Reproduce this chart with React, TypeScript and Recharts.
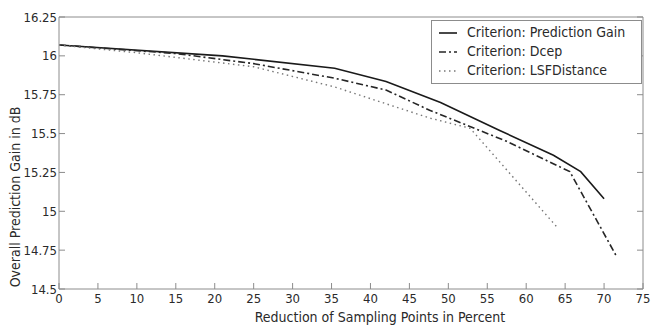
import { Legend, Line, LineChart, XAxis, YAxis } from 'recharts';

const FONT = '"Liberation Sans Narrow", "Arial Narrow", "DejaVu Sans Condensed", sans-serif';
const AXIS_GRAY = '#8c8c8c';
const TEXT = '#2a2a2a';

// reduction of sampling points (%) and gain (dB) per criterion
const gainX = [0, 21, 35.4, 42, 49, 56.6, 63.5, 67, 70];
const gainY = [16.07, 16.0, 15.92, 15.835, 15.7, 15.52, 15.36, 15.255, 15.08];

const dcepX = [0, 15, 25, 35.4, 42, 47.6, 57.5, 65.6, 71.6];
const dcepY = [16.07, 16.015, 15.95, 15.856, 15.78, 15.65, 15.45, 15.255, 14.71];

const lsfX = [0, 10, 25, 35.4, 47.6, 52.8, 64.1];
const lsfY = [16.07, 16.02, 15.93, 15.8, 15.6, 15.534, 14.89];

const xTicks = [0, 5, 10, 15, 20, 25, 30, 35, 40, 45, 50, 55, 60, 65, 70, 75];
const yTicks = [14.5, 14.75, 15, 15.25, 15.5, 15.75, 16, 16.25];

const toPoints = (xs: number[], ys: number[]) => xs.map((x, i) => ({ x, y: ys[i] }));

const series = [
  { name: 'Criterion: Prediction Gain', data: toPoints(gainX, gainY), color: '#1a1a1a', dash: undefined, width: 1.6 },
  { name: 'Criterion: Dcep', data: toPoints(dcepX, dcepY), color: '#262626', dash: '7 3 2 3', width: 1.6 },
  { name: 'Criterion: LSFDistance', data: toPoints(lsfX, lsfY), color: '#777777', dash: '1.5 3.5', width: 1.4 },
];

const blank = () => '';

const LegendBox = () => (
  <div
    style={{
      border: `1px solid ${AXIS_GRAY}`,
      background: '#fff',
      padding: '2px 6px 3px 6px',
      fontFamily: FONT,
      fontSize: 14,
      color: TEXT,
      lineHeight: '19px',
      boxSizing: 'border-box',
      width: 211,
      whiteSpace: 'nowrap',
    }}
  >
    {series.map((s) => (
      <div key={s.name} style={{ display: 'flex', alignItems: 'center' }}>
        <svg width={22} height={10} style={{ marginRight: 7 }}>
          <line x1={1} y1={5} x2={19} y2={5} stroke={s.color} strokeWidth={s.width} strokeDasharray={s.dash} />
        </svg>
        <span>{s.name}</span>
      </div>
    ))}
  </div>
);

const YLabel = (props: any) => {
  const { viewBox } = props;
  const cx = 15;
  const cy = viewBox.y + viewBox.height / 2 + 44;
  return (
    <text
      x={cx}
      y={cy}
      transform={`rotate(-90 ${cx} ${cy})`}
      textAnchor="middle"
      dominantBaseline="central"
      fontFamily={FONT}
      fontSize={14}
      fill={TEXT}
    >
      Overall Prediction Gain in dB
    </text>
  );
};

const XLabel = (props: any) => {
  const { viewBox } = props;
  return (
    <text
      x={viewBox.x + viewBox.width / 2 + 29}
      y={322}
      textAnchor="middle"
      fontFamily={FONT}
      fontSize={14}
      fill={TEXT}
    >
      Reduction of Sampling Points in Percent
    </text>
  );
};

export default function App() {
  const tickStyle = { fontFamily: FONT, fontSize: 13, fill: TEXT };
  return (
    <div style={{ position: 'absolute', left: 0, top: 0, background: '#fff' }}>
      <LineChart width={660} height={325} margin={{ top: 0, right: 0, bottom: 0, left: 0 }}>
        <XAxis
          xAxisId="bottom"
          dataKey="x"
          type="number"
          domain={[0, 75]}
          ticks={xTicks}
          allowDataOverflow
          height={36}
          stroke={AXIS_GRAY}
          tickSize={-6}
          tickMargin={11}
          tick={tickStyle}
          label={<XLabel />}
        />
        <XAxis
          xAxisId="top"
          orientation="top"
          type="number"
          domain={[0, 75]}
          ticks={xTicks}
          allowDataOverflow
          height={17}
          stroke={AXIS_GRAY}
          tickSize={-6}
          tickFormatter={blank}
        />
        <YAxis
          yAxisId="left"
          type="number"
          domain={[14.5, 16.25]}
          ticks={yTicks}
          allowDataOverflow
          width={59}
          stroke={AXIS_GRAY}
          tickSize={-6}
          tickMargin={8}
          tick={tickStyle}
          label={<YLabel />}
        />
        <YAxis
          yAxisId="right"
          orientation="right"
          type="number"
          domain={[14.5, 16.25]}
          ticks={yTicks}
          allowDataOverflow
          width={17}
          stroke={AXIS_GRAY}
          tickSize={-6}
          tickFormatter={blank}
        />
        <Legend
          content={<LegendBox />}
          layout="horizontal"
          verticalAlign="middle"
          align="center"
          wrapperStyle={{ top: 20, left: 431, width: 211 }}
        />
        {series.map((s) => (
          <Line
            key={s.name}
            xAxisId="bottom"
            yAxisId="left"
            data={s.data}
            dataKey="y"
            name={s.name}
            type="linear"
            stroke={s.color}
            strokeWidth={s.width}
            strokeDasharray={s.dash}
            dot={false}
            isAnimationActive={false}
          />
        ))}
      </LineChart>
    </div>
  );
}
